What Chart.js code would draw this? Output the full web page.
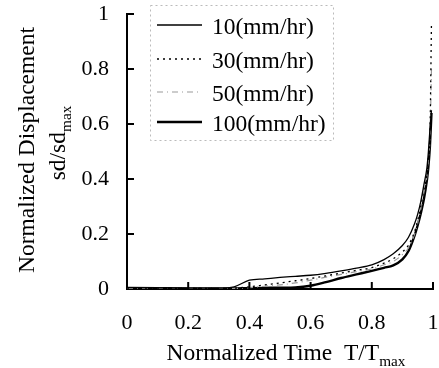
<!DOCTYPE html>
<html>
<head>
<meta charset="utf-8">
<script src="https://cdn.jsdelivr.net/npm/chart.js@4"></script>
<style>
  html, body { margin: 0; padding: 0; overflow: hidden; background: #fff; }
  #wrap { width: 439px; height: 368px; position: relative; }
  canvas { display: block; }
</style>
</head>
<body>
<div id="wrap"><canvas id="c"></canvas></div>
<script>
// data
const timeRatio = [0, 0.1, 0.2, 0.3, 0.35, 0.4, 0.45, 0.5, 0.55, 0.6, 0.65, 0.7, 0.75, 0.8, 0.84, 0.87, 0.9, 0.92, 0.94, 0.95, 0.96, 0.97, 0.98, 0.985, 0.99, 0.995];
const rate10  = [0.005, 0.004, 0.003, 0.003, 0.008, 0.032, 0.037, 0.042, 0.046, 0.05, 0.057, 0.066, 0.076, 0.088, 0.107, 0.128, 0.158, 0.188, 0.238, 0.272, 0.318, 0.378, 0.44, 0.5, 0.58, 0.65];
const rate30  = [0.003, 0.003, 0.002, 0.002, 0.003, 0.008, 0.015, 0.022, 0.03, 0.038, 0.048, 0.058, 0.068, 0.078, 0.094, 0.11, 0.135, 0.16, 0.21, 0.25, 0.3, 0.36, 0.42, 0.48, 0.56, 0.97];
const rate50  = [0.002, 0.002, 0.002, 0.002, 0.002, 0.005, 0.01, 0.015, 0.022, 0.032, 0.043, 0.053, 0.063, 0.073, 0.088, 0.1, 0.125, 0.15, 0.2, 0.24, 0.29, 0.35, 0.41, 0.47, 0.55, 0.8];
const rate100 = [0.004, 0.003, 0.002, 0.002, 0.002, 0.003, 0.004, 0.005, 0.006, 0.012, 0.025, 0.04, 0.053, 0.066, 0.077, 0.086, 0.108, 0.138, 0.195, 0.232, 0.275, 0.325, 0.395, 0.445, 0.52, 0.64];
const seriesLabels = ["10(mm/hr)", "30(mm/hr)", "50(mm/hr)", "100(mm/hr)"];
const tickValues = [0, 0.2, 0.4, 0.6, 0.8, 1];

const serif = "'Liberation Serif', 'Times New Roman', serif";

function pts(ys) {
    return timeRatio.map((t, i) => ({x: t, y: ys[i]}));
}

function fmt(v) {
    if (v === 0) return "0";
    if (v === 1) return "1";
    return v.toFixed(1);
}

// inward tick marks on both axes
const innerTicks = {
    id: "innerTicks",
    afterDatasetsDraw(chart) {
        const ctx = chart.ctx;
        const xs = chart.scales.x, ys = chart.scales.y;
        const a = chart.chartArea;
        ctx.save();
        ctx.strokeStyle = "#000";
        ctx.lineWidth = 2;
        tickValues.forEach(v => {
            if (v === 0) return;
            const px = xs.getPixelForValue(v);
            ctx.beginPath();
            ctx.moveTo(px, a.bottom);
            ctx.lineTo(px, a.bottom - 7);
            ctx.stroke();
            const py = ys.getPixelForValue(v);
            ctx.beginPath();
            ctx.moveTo(a.left, py);
            ctx.lineTo(a.left + 7, py);
            ctx.stroke();
        });
        ctx.restore();
    }
};

// axis titles with subscripts
function subText(ctx, parts, x, y, size) {
    // parts: [[text, isSub], ...] drawn centred on x
    let w = 0;
    parts.forEach(p => {
        ctx.font = (p[1] ? size * 0.65 : size) + "px " + serif;
        w += ctx.measureText(p[0]).width;
    });
    let cx = x - w / 2;
    parts.forEach(p => {
        ctx.font = (p[1] ? size * 0.65 : size) + "px " + serif;
        ctx.fillText(p[0], cx, p[1] ? y + size * 0.25 : y);
        cx += ctx.measureText(p[0]).width;
    });
}

const axisTitles = {
    id: "axisTitles",
    afterDraw(chart) {
        const ctx = chart.ctx;
        ctx.save();
        ctx.fillStyle = "#000";
        ctx.textBaseline = "alphabetic";
        subText(ctx, [["Normalized Time  T/T", false], ["max", true]], 286, 360, 23.5);
        ctx.save();
        ctx.translate(34, 150);
        ctx.rotate(-Math.PI / 2);
        subText(ctx, [["Normalized Displacement", false]], 0, 0, 23.5);
        ctx.restore();
        ctx.save();
        ctx.translate(65, 143);
        ctx.rotate(-Math.PI / 2);
        subText(ctx, [["sd/sd", false], ["max", true]], 0, 0, 23.5);
        ctx.restore();
        ctx.restore();
    }
};

// legend box inside the plot
const boxLegend = {
    id: "boxLegend",
    afterDraw(chart) {
        const ctx = chart.ctx;
        ctx.save();
        ctx.strokeStyle = "#bbb";
        ctx.lineWidth = 1;
        ctx.setLineDash([2, 3]);
        ctx.strokeRect(150.5, 5.5, 183, 135);
        const rows = [28, 62, 95, 125];
        chart.data.datasets.forEach((ds, i) => {
            const y = rows[i];
            ctx.strokeStyle = ds.borderColor;
            ctx.lineWidth = ds.borderWidth;
            ctx.setLineDash(ds.borderDash || []);
            ctx.beginPath();
            ctx.moveTo(157, y - 3);
            ctx.lineTo(202, y - 3);
            ctx.stroke();
            ctx.fillStyle = "#000";
            ctx.font = "23.5px " + serif;
            ctx.textBaseline = "middle";
            ctx.textAlign = "left";
            ctx.fillText(seriesLabels[i], 212, y);
        });
        ctx.restore();
    }
};

const chart = new Chart(document.getElementById("c").getContext("2d"), {
    type: "line",
    data: {
        datasets: [
            {label: seriesLabels[0], data: pts(rate10), borderColor: "#000", borderWidth: 1.3, borderDash: []},
            {label: seriesLabels[1], data: pts(rate30), borderColor: "#000", borderWidth: 1.3, borderDash: [2, 4]},
            {label: seriesLabels[2], data: pts(rate50), borderColor: "#999", borderWidth: 1.2, borderDash: [6, 4, 1, 4]},
            {label: seriesLabels[3], data: pts(rate100), borderColor: "#000", borderWidth: 2.4, borderDash: []}
        ]
    },
    options: {
        responsive: true,
        maintainAspectRatio: false,
        animation: false,
        layout: {padding: {left: 0, top: 14, right: 6, bottom: 0}},
        elements: {
            point: {radius: 0},
            line: {cubicInterpolationMode: "monotone", fill: false}
        },
        plugins: {
            legend: {display: false},
            tooltip: {enabled: false}
        },
        scales: {
            x: {
                type: "linear",
                min: 0,
                max: 1,
                afterFit(s) { s.height = 79; s.paddingLeft = 0; s.paddingRight = 0; },
                afterBuildTicks(s) { s.ticks = tickValues.map(v => ({value: v})); },
                grid: {drawOnChartArea: false, drawTicks: false},
                border: {display: true, color: "#000", width: 2},
                ticks: {
                    padding: 21,
                    color: "#000",
                    font: {family: serif, size: 22},
                    callback: v => fmt(v)
                }
            },
            y: {
                type: "linear",
                min: 0,
                max: 1,
                afterFit(s) { s.width = 127; s.paddingTop = 0; s.paddingBottom = 0; },
                afterBuildTicks(s) { s.ticks = tickValues.map(v => ({value: v})); },
                grid: {drawOnChartArea: false, drawTicks: false},
                border: {display: true, color: "#000", width: 2},
                ticks: {
                    padding: 18,
                    color: "#000",
                    font: {family: serif, size: 22},
                    callback: v => fmt(v)
                }
            }
        }
    },
    plugins: [innerTicks, axisTitles, boxLegend]
});
</script>
</body>
</html>
